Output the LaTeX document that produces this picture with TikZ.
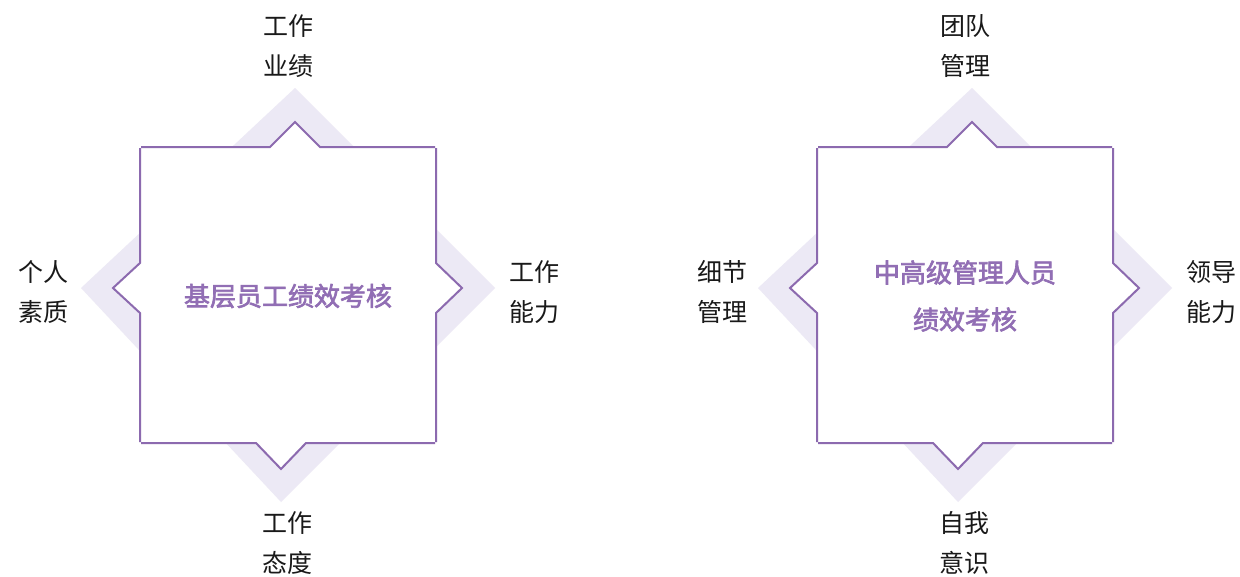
\documentclass[tikz,border=0pt]{standalone}
\usepackage{fontspec}
\setmainfont{Noto Sans CJK SC}
\newfontfamily\titlefont{Noto Sans CJK SC}[BoldFont={Noto Sans CJK SC}, BoldFeatures={FakeBold=2.5}]
\definecolor{linepurple}{RGB}{140,106,175}
\definecolor{titlec}{RGB}{145,110,180}
\definecolor{lav}{RGB}{236,233,245}
\definecolor{labelc}{RGB}{25,25,25}
\tikzset{
  outline/.style={draw=linepurple, line width=2pt, line join=miter},
  lbl/.style={font=\fontsize{25}{40}\selectfont, text=labelc, align=center, inner sep=0pt},
  titletext/.style={font=\titlefont\fontsize{26}{47}\selectfont\bfseries, text=titlec, align=center, inner sep=0pt},
  starpic/.pic={
    \fill[lav] (295,88) -- (495,288) -- (281,502) -- (81,288) -- cycle;
    \fill[white] (140,147) -- (270,147) -- (295,122) -- (320,147) -- (436,147)
      -- (436,263) -- (462,288) -- (436,313) -- (436,443)
      -- (306,443) -- (281,469) -- (256,443) -- (140,443)
      -- (140,313) -- (113,288) -- (140,263) -- cycle;
    \draw[outline] (141,147) -- (270,147) -- (295,122) -- (320,147) -- (435,147);
    \draw[outline] (436,148) -- (436,263) -- (462,288) -- (436,313) -- (436,442);
    \draw[outline] (435,443) -- (306,443) -- (281,469) -- (256,443) -- (141,443);
    \draw[outline] (140,442) -- (140,313) -- (113,288) -- (140,263) -- (140,148);
  }
}
\begin{document}
\begin{tikzpicture}[x=1pt,y=-1pt]
\useasboundingbox (0,0) rectangle (1240,576);
\fill[white] (0,0) rectangle (1240,576);
\pic at (0,0) {starpic};
\pic at (677,0) {starpic};
% left group
\node[titletext] (t1) at (288,296) {基层员工绩效考核};
\node[lbl] (a1) at (288,46) {工作\\业绩};
\node[lbl] (a2) at (44,292) {个人\\素质};
\node[lbl] (a3) at (534,292) {工作\\能力};
\node[lbl] (a4) at (287,543) {工作\\态度};
% right group
\node[titletext] (t2) at (965,296) {中高级管理人员\\绩效考核};
\node[lbl] (b1) at (965,46) {团队\\管理};
\node[lbl] (b2) at (722,292) {细节\\管理};
\node[lbl] (b3) at (1211,292) {领导\\能力};
\node[lbl] (b4) at (964,543) {自我\\意识};
\end{tikzpicture}
\end{document}
